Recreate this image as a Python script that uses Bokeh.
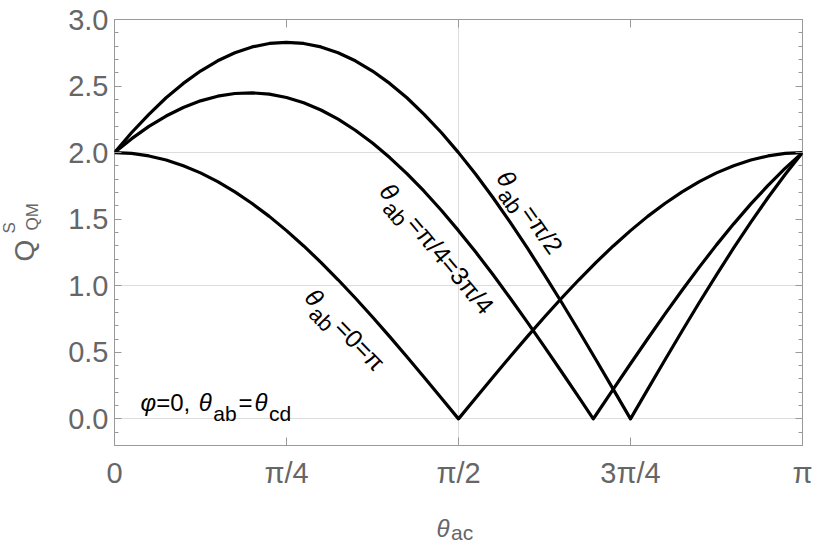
import numpy as np
from bokeh.plotting import figure
from bokeh.models import (Range1d, LinearAxis, FixedTicker, SingleIntervalTicker,
                          PrintfTickFormatter, CustomJSTickFormatter, Label, Grid,
                          ColumnDataSource)
from bokeh.embed import file_html
from bokeh.resources import INLINE

# ---------------- data (theta_ac in units of pi) ----------------
theta_frac = [0.000, 0.025, 0.050, 0.075, 0.100, 0.125, 0.150, 0.175, 0.200, 0.225,
              0.250, 0.275, 0.300, 0.325, 0.350, 0.375, 0.400, 0.425, 0.450, 0.475,
              0.500, 0.525, 0.550, 0.575, 0.600, 0.625, 0.650, 0.675, 0.700, 0.725,
              0.750, 0.775, 0.800, 0.825, 0.850, 0.875, 0.900, 0.925, 0.950, 0.975, 1.000]

# theta_ab = 0 = pi
q_ab_0 = [2.000, 1.994, 1.975, 1.945, 1.902, 1.848, 1.782, 1.705, 1.618, 1.521,
          1.414, 1.299, 1.176, 1.045, 0.908, 0.765, 0.618, 0.467, 0.313, 0.157,
          0.000, 0.157, 0.313, 0.467, 0.618, 0.765, 0.908, 1.045, 1.176, 1.299,
          1.414, 1.521, 1.618, 1.705, 1.782, 1.848, 1.902, 1.945, 1.975, 1.994, 2.000]

# theta_ab = pi/2
q_ab_half = [2.000, 2.151, 2.288, 2.412, 2.520, 2.613, 2.690, 2.750, 2.794, 2.820,
             2.828, 2.820, 2.794, 2.750, 2.690, 2.613, 2.520, 2.412, 2.288, 2.151,
             2.000, 1.837, 1.663, 1.478, 1.284, 1.082, 0.874, 0.660, 0.442, 0.222,
             0.000, 0.222, 0.442, 0.660, 0.874, 1.082, 1.284, 1.478, 1.663, 1.837, 2.000]

# theta_ab = pi/4 = 3pi/4
theta_frac_q = [0.000, 0.025, 0.050, 0.075, 0.100, 0.125, 0.150, 0.175, 0.200, 0.225,
                0.250, 0.275, 0.300, 0.325, 0.350, 0.375, 0.400, 0.425, 0.450, 0.475,
                0.500, 0.525, 0.550, 0.575, 0.600, 0.625, 0.650, 0.675, 0.6959, 0.700,
                0.725, 0.750, 0.775, 0.800, 0.825, 0.850, 0.875, 0.900, 0.925, 0.950,
                0.975, 1.000]
q_ab_quarter = [2.000, 2.105, 2.197, 2.275, 2.339, 2.389, 2.424, 2.444, 2.449, 2.439,
                2.414, 2.374, 2.320, 2.251, 2.168, 2.072, 1.963, 1.842, 1.710, 1.567,
                1.414, 1.253, 1.084, 0.908, 0.727, 0.541, 0.352, 0.161, 0.000, 0.031,
                0.224, 0.414, 0.602, 0.787, 0.966, 1.140, 1.307, 1.465, 1.615, 1.754,
                1.883, 2.000]

x_tick_frac = [0, 0.25, 0.5, 0.75, 1.0]
x_tick_labels = ["0", "π/4", "π/2", "3π/4", "π"]
y_grid_values = [0, 1, 2]
x_grid_frac = [0.5]

# ---------------- figure ----------------
FONT = "Liberation Sans"
GRAY_TXT = "#666666"
GRAY_FRAME = "#999999"

p = figure(frame_width=688, frame_height=426,
           x_range=Range1d(0, np.pi), y_range=Range1d(-0.2, 3.0),
           x_axis_type=None, y_axis_type=None,
           output_backend="svg", toolbar_location=None,
           min_border_left=114, min_border_right=15, min_border_top=19, min_border_bottom=100,
           background_fill_color="white", border_fill_color="white")
p.outline_line_color = GRAY_FRAME
p.outline_line_width = 1

xt = [f * np.pi for f in x_tick_frac]
overrides = {t: lab for t, lab in zip(xt, x_tick_labels)}
blank = CustomJSTickFormatter(code="return ''")


def style_axis(ax, show_labels, major_in):
    ax.axis_line_color = None
    ax.major_tick_line_color = GRAY_FRAME
    ax.minor_tick_line_color = GRAY_FRAME
    ax.major_tick_in = major_in
    ax.major_tick_out = 0
    ax.minor_tick_in = 4
    ax.minor_tick_out = 0
    ax.major_label_text_font = FONT
    ax.major_label_text_font_size = "29px"
    ax.major_label_text_color = GRAY_TXT
    if not show_labels:
        ax.formatter = blank
        ax.major_label_standoff = 0


for place, show in (("below", True), ("above", False)):
    ax = LinearAxis(ticker=FixedTicker(ticks=xt, minor_ticks=[]))
    if show:
        ax.major_label_overrides = overrides
        ax.major_label_standoff = 11
    style_axis(ax, show, 8)
    p.add_layout(ax, place)

for place, show in (("left", True), ("right", False)):
    ay = LinearAxis(ticker=SingleIntervalTicker(interval=0.5, num_minor_ticks=5),
                    formatter=PrintfTickFormatter(format="%.1f"))
    if show:
        ay.major_label_standoff = 6
    style_axis(ay, show, 7)
    p.add_layout(ay, place)

p.add_layout(Grid(dimension=1, ticker=FixedTicker(ticks=y_grid_values),
                  grid_line_color="#dddddd", grid_line_width=1))
p.add_layout(Grid(dimension=0, ticker=FixedTicker(ticks=[f * np.pi for f in x_grid_frac]),
                  grid_line_color="#dddddd", grid_line_width=1))

# ---------------- curves ----------------
for xs, ys in ((theta_frac, q_ab_0), (theta_frac, q_ab_half), (theta_frac_q, q_ab_quarter)):
    src = ColumnDataSource(dict(x=[f * np.pi for f in xs], y=ys))
    p.line("x", "y", source=src, line_color="black", line_width=3.2, line_join="round")

# ---------------- text helpers ----------------
WID = {'a': 0.556, 'b': 0.556, 'c': 0.5, 'd': 0.556, '=': 0.584, '0': 0.556, '2': 0.556,
       '3': 0.556, '4': 0.556, '/': 0.278, ',': 0.278, ' ': 0.278, 'θ': 0.556,
       'π': 0.6, 'φ': 0.65, 'Q': 0.778, 'S': 0.667, 'M': 0.833}


def tw(text, size):
    return sum(WID.get(ch, 0.556) for ch in text) * size


def piece(x, y, text, size, s, d, angle_deg, color="black", style="normal",
          bx=0.0, by=0.0, place=None):
    # (s, d): position of the baseline start along / below the rotated baseline (px)
    a = np.radians(angle_deg)
    ca, sa = np.cos(a), np.sin(a)
    d = d - 0.347 * size          # anchor at text middle instead of baseline
    xo = bx + s * ca + d * sa
    yo = by + s * sa - d * ca
    lab = Label(x=x, y=y, x_offset=xo, y_offset=yo, text=text, angle=a,
                text_font=FONT, text_font_size=f"{size}px", text_color=color,
                text_font_style=style, text_align="left", text_baseline="middle")
    if place is None:
        p.add_layout(lab)
    else:
        p.add_layout(lab, place)


def seq(x, y, parts, angle_deg, color="black", bx=0.0, by=0.0):
    s = 0.0
    for text, size, d, style, gap in parts:
        piece(x, y, text, size, s, d, angle_deg, color, style, bx, by)
        s += tw(text, size) + gap


def theta_label(x, y, rest, angle_deg):
    seq(x, y, [("θ", 25, 0, "italic", 1), ("ab", 22, 9, "normal", 3), (rest, 25, 0, "normal", 0)],
        angle_deg)


theta_label(0.863, 0.904, "=0=π", -46)
theta_label(1.206, 1.704, "=π/4=3π/4", -50)
theta_label(1.741, 1.808, "=π/2", -55)

seq(0.119, 0.058, [("φ", 24, 0, "italic", 0), ("=0, ", 24, 0, "normal", 2),
                   ("θ", 24, 0, "italic", 1), ("ab", 21, 10, "normal", 2),
                   ("=", 24, 0, "normal", 2), ("θ", 24, 0, "italic", 1),
                   ("cd", 21, 10, "normal", 0)], 0)

# axis titles: placed in side panels (not clipped to the frame); the panels are
# chosen so that the extra panel sizes fit inside the fixed borders.
piece(np.pi / 2, -0.2, "θ", 24, 0, 0, 0, GRAY_TXT, "italic", bx=-22, by=-91, place="left")
piece(np.pi / 2, -0.2, "ac", 21, 14.5, 3, 0, GRAY_TXT, "normal", bx=-22, by=-91, place="left")

piece(0, 1.183, "Q", 28, 0, 0, 90, GRAY_TXT, "normal", bx=-80, by=0, place="below")
piece(0, 1.183, "S", 17, 28, -19, 90, GRAY_TXT, "normal", bx=-80, by=0, place="left")
piece(0, 1.183, "QM", 17, 31, 4, 90, GRAY_TXT, "normal", bx=-80, by=0, place="below")

open("out.html", "w").write(file_html(p, INLINE))
